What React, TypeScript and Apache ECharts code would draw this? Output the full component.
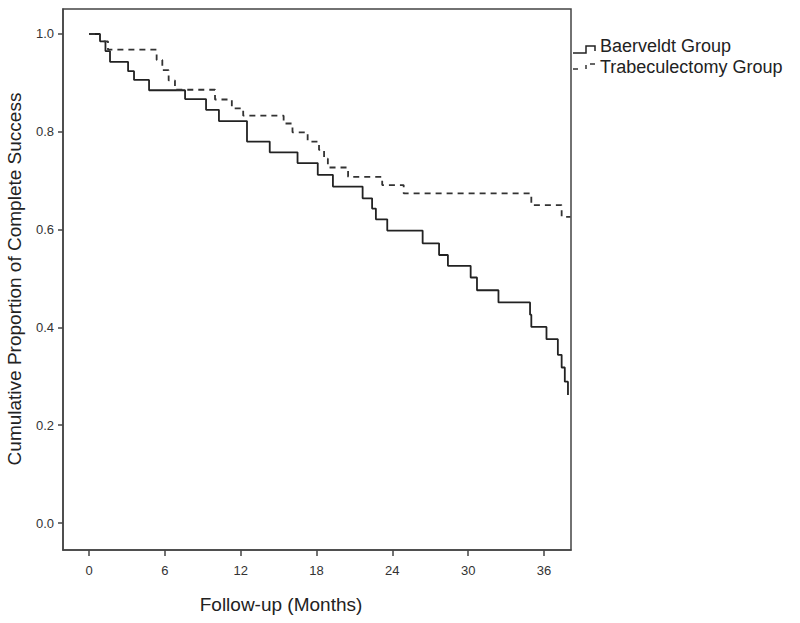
import React, { useEffect, useRef } from "react";
import * as echarts from "echarts";

const xTicks = [0, 6, 12, 18, 24, 30, 36];
const yTicks = [0, 0.2, 0.4, 0.6, 0.8, 1.0];

const baerveldtMonths = [0, 0.87, 1.3, 1.66, 3.09, 3.56, 4.75, 7.6, 9.26, 10.28, 12.5, 14.3, 16.5, 18.1, 19.3, 21.65, 22.4, 22.7, 23.6, 26.4, 27.7, 28.4, 30.2, 30.7, 32.4, 34.9, 35.0, 36.2, 37.1, 37.4, 37.65, 37.9];
const baerveldtSurvival = [1.0, 0.985, 0.965, 0.943, 0.924, 0.906, 0.885, 0.867, 0.845, 0.822, 0.78, 0.758, 0.736, 0.712, 0.688, 0.664, 0.643, 0.621, 0.598, 0.572, 0.548, 0.526, 0.502, 0.476, 0.451, 0.426, 0.401, 0.376, 0.344, 0.318, 0.289, 0.262];

const trabMonths = [0, 0.87, 1.5, 5.35, 5.8, 6.3, 6.8, 9.97, 11.3, 12.2, 15.4, 16.1, 17.3, 18.2, 18.6, 18.9, 20.5, 23.2, 24.9, 35.0, 37.4, 38.1];
const trabSurvival = [1.0, 0.985, 0.968, 0.947, 0.926, 0.905, 0.886, 0.866, 0.848, 0.833, 0.817, 0.799, 0.78, 0.763, 0.745, 0.727, 0.708, 0.691, 0.674, 0.65, 0.626, 0.626];

const seriesNames = ["Baerveldt Group", "Trabeculectomy Group"];
const xTitle = "Follow-up (Months)";
const yTitle = "Cumulative Proportion of Complete Success";

const FONT = "'Liberation Sans', Arial, Helvetica, sans-serif";

export default function App() {
  const ref = useRef<HTMLDivElement>(null);
  useEffect(() => {
    document.body.style.margin = "0";
    const chart = echarts.init(ref.current!, null, { renderer: "svg" });
    const zip = (a: number[], b: number[]) => a.map((t, i) => [t, b[i]]);
    chart.setOption({
      animation: false,
      backgroundColor: "#ffffff",
      textStyle: { fontFamily: FONT },
      grid: {
        left: 63,
        right: 229,
        top: 9,
        bottom: 73,
        show: true,
        borderColor: "#444",
        borderWidth: 1.5,
        backgroundColor: "transparent",
      },
      xAxis: {
        type: "value",
        min: -2.06,
        max: 38.14,
        axisLine: { show: true, onZero: false, lineStyle: { color: "#444", width: 1.5 } },
        axisTick: { show: true, inside: false, length: 6, lineStyle: { color: "#444", width: 1.5 }, customValues: xTicks },
        axisLabel: {
          customValues: xTicks,
          color: "#333",
          fontSize: 13,
          fontFamily: FONT,
          margin: 14,
          formatter: (v: number) => String(v),
        },
        splitLine: { show: false },
      },
      yAxis: {
        type: "value",
        min: -0.0552,
        max: 1.0511,
        axisLine: { show: true, onZero: false, lineStyle: { color: "#444", width: 1.5 } },
        axisTick: { show: true, inside: false, length: 5, lineStyle: { color: "#444", width: 1.5 }, customValues: yTicks },
        axisLabel: {
          customValues: yTicks,
          color: "#333",
          fontSize: 13,
          fontFamily: FONT,
          margin: 9,
          formatter: (v: number) => v.toFixed(1),
        },
        splitLine: { show: false },
      },
      series: [
        {
          name: seriesNames[0],
          type: "line",
          step: "end",
          showSymbol: false,
          data: zip(baerveldtMonths, baerveldtSurvival),
          lineStyle: { color: "#222", width: 1.8 },
          itemStyle: { color: "#222" },
        },
        {
          name: seriesNames[1],
          type: "line",
          step: "end",
          showSymbol: false,
          data: zip(trabMonths, trabSurvival),
          lineStyle: { color: "#333", width: 1.8, type: [6, 5] },
          itemStyle: { color: "#333" },
        },
      ],
      graphic: [
        {
          type: "text",
          x: 281,
          y: 604,
          style: { text: xTitle, fontSize: 19, fontFamily: FONT, fill: "#222", align: "center", verticalAlign: "middle" },
        },
        {
          type: "text",
          x: 14,
          y: 279,
          rotation: Math.PI / 2,
          style: { text: yTitle, fontSize: 19, fontFamily: FONT, fill: "#222", align: "center", verticalAlign: "middle" },
        },
        {
          type: "polyline",
          shape: { points: [[573, 53], [586, 53], [586, 46], [595, 46], [595, 51]] },
          style: { stroke: "#222", lineWidth: 1.5, fill: null },
        },
        {
          type: "line",
          shape: { x1: 573, y1: 69, x2: 578, y2: 69 },
          style: { stroke: "#333", lineWidth: 1.5 },
        },
        {
          type: "line",
          shape: { x1: 586, y1: 65, x2: 586, y2: 69 },
          style: { stroke: "#333", lineWidth: 1.5 },
        },
        {
          type: "line",
          shape: { x1: 590, y1: 64, x2: 595, y2: 64 },
          style: { stroke: "#333", lineWidth: 1.5 },
        },
        {
          type: "text",
          x: 600,
          y: 46,
          style: { text: seriesNames[0], fontSize: 18, fontFamily: FONT, fill: "#222", align: "left", verticalAlign: "middle" },
        },
        {
          type: "text",
          x: 600,
          y: 67,
          style: { text: seriesNames[1], fontSize: 18, fontFamily: FONT, fill: "#222", align: "left", verticalAlign: "middle" },
        },
      ],
    });
    return () => chart.dispose();
  }, []);
  return <div ref={ref} style={{ width: 800, height: 623 }} />;
}
